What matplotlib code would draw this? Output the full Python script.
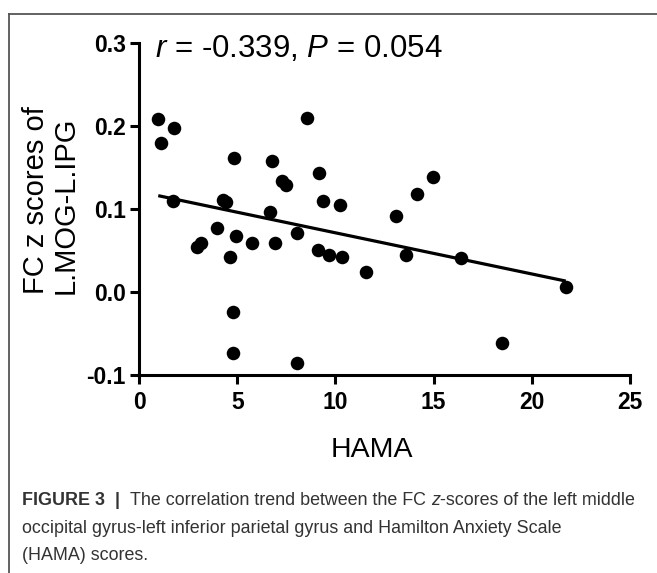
import numpy as np
import matplotlib
matplotlib.use("Agg")
import matplotlib.pyplot as plt
from matplotlib.lines import Line2D

# ---- data ----
hama = [0.98, 1.80, 1.12, 4.82, 8.54, 6.76, 9.18, 7.27, 7.47, 1.72,
        4.29, 4.41, 9.35, 10.23, 6.67, 13.07, 14.98, 14.14, 13.59, 16.41,
        21.73, 3.96, 2.94, 3.16, 4.94, 5.74, 6.92, 8.03, 4.63, 9.10,
        9.67, 10.32, 11.54, 4.80, 4.80, 8.03, 18.48]
fc_z = [0.208, 0.198, 0.180, 0.162, 0.210, 0.158, 0.143, 0.134, 0.129, 0.110,
        0.111, 0.109, 0.110, 0.105, 0.096, 0.091, 0.139, 0.118, 0.045, 0.041,
        0.006, 0.077, 0.054, 0.059, 0.067, 0.059, 0.059, 0.071, 0.042, 0.051,
        0.044, 0.042, 0.024, -0.024, -0.074, -0.085, -0.061]
x_ticks = [0, 5, 10, 15, 20, 25]
y_ticks = [-0.1, 0.0, 0.1, 0.2, 0.3]
y_ticklabels = ["-0.1", "0.0", "0.1", "0.2", "0.3"]
stat_r = "-0.339"
stat_p = "0.054"

plt.rcParams["mathtext.fontset"] = "custom"
plt.rcParams["mathtext.it"] = "Liberation Sans:italic"
plt.rcParams["mathtext.rm"] = "Liberation Sans"

W, H = 657, 573
fig = plt.figure(figsize=(W / 100, H / 100), dpi=100)
fig.patch.set_facecolor("white")

ax = fig.add_axes([139 / W, 1 - 375 / H, (630 - 139) / W, (375 - 43) / H])
ax.set_xlim(0, 25)
ax.set_ylim(-0.1, 0.3)

x = np.array(hama)
y = np.array(fc_z)
slope, intercept = np.polyfit(x, y, 1)
xl = np.array([x.min(), x.max()])
ax.plot(xl, slope * xl + intercept, color="black", lw=2.3, zorder=2, solid_capstyle="butt")
ax.scatter(x, y, s=95, color="black", zorder=3, clip_on=False, linewidths=0)

for s in ["top", "right"]:
    ax.spines[s].set_visible(False)
for s in ["left", "bottom"]:
    ax.spines[s].set_linewidth(2.2)
ax.set_xticks(x_ticks)
ax.set_xticklabels([str(t) for t in x_ticks])
ax.set_yticks(y_ticks)
ax.set_yticklabels(y_ticklabels)
ax.tick_params(axis="both", length=6.5, width=2.2, labelsize=16.5)
ax.tick_params(axis="x", pad=5)
ax.tick_params(axis="y", pad=3)
for lab in ax.get_xticklabels() + ax.get_yticklabels():
    lab.set_fontfamily("Liberation Sans")
    lab.set_fontweight("bold")

# stats text
fig.text(155 / W, 1 - 57 / H,
         r"$\it{r}$ = " + stat_r + r", $\it{P}$ = " + stat_p,
         fontsize=22.5, family="Liberation Sans", ha="left", va="baseline")

# axis labels
fig.text(372 / W, 1 - 450 / H, "HAMA", fontsize=20.5, family="Liberation Sans",
         ha="center", va="center")
fig.text(51 / W, 1 - 200 / H, "FC z scores of\nL.MOG-L.IPG", fontsize=21,
         family="Liberation Sans", rotation=90, ha="center", va="center",
         multialignment="left", linespacing=1.1)

# frame lines (top and left)
fig.add_artist(Line2D([9 / W, 1.0], [1 - 14 / H, 1 - 14 / H], color="#555555", lw=1.3,
                      transform=fig.transFigure))
fig.add_artist(Line2D([9 / W, 9 / W], [1 - 14 / H, 0], color="#555555", lw=1.3,
                      transform=fig.transFigure))

# caption
fig.canvas.draw()
renderer = fig.canvas.get_renderer()
cap_color = "#333333"
cap_size = 12.9

def draw_pieces(x0, ybase, pieces):
    xp = x0
    for txt, kw in pieces:
        t = fig.text(xp / W, 1 - ybase / H, txt, fontsize=cap_size, color=cap_color,
                     family="Liberation Sans", ha="left", va="baseline", **kw)
        bb = t.get_window_extent(renderer=renderer)
        xp += bb.width

draw_pieces(22, 505, [("FIGURE 3  ", {"fontweight": "bold"}),
                      ("|  ", {"fontweight": "bold"}),
                      ("The correlation trend between the FC ", {}),
                      ("z", {"fontstyle": "italic"}),
                      ("-scores of the left middle", {})])
draw_pieces(22, 533, [("occipital gyrus-left inferior parietal gyrus and Hamilton Anxiety Scale", {})])
draw_pieces(22, 560, [("(HAMA) scores.", {})])

fig.savefig("out.png", dpi=100, facecolor="white")
